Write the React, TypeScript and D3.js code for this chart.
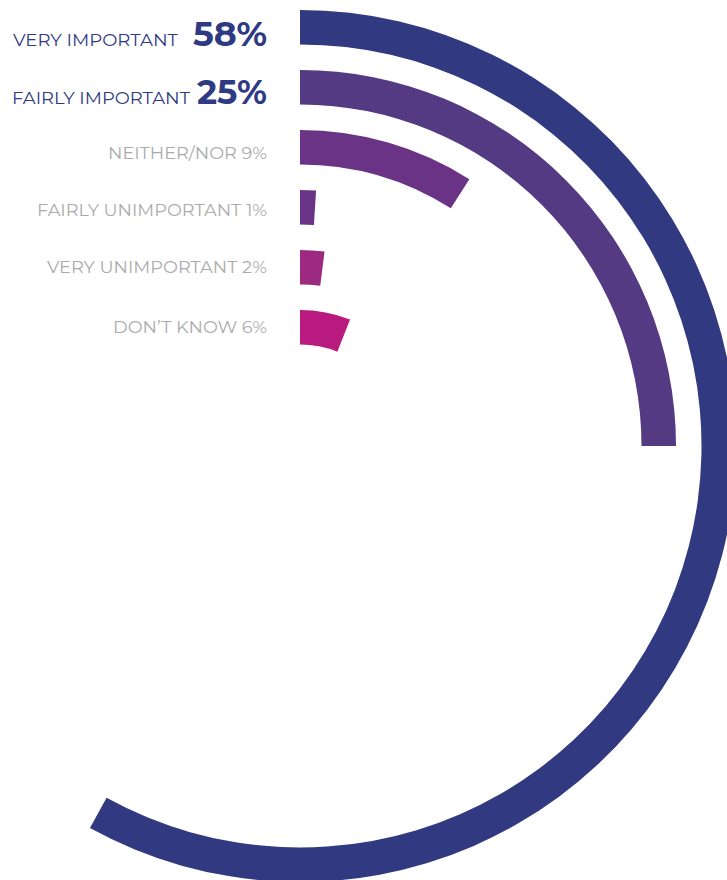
import { useEffect, useRef } from "react";
import * as d3 from "d3";

const categories = [
  "VERY IMPORTANT",
  "FAIRLY IMPORTANT",
  "NEITHER/NOR",
  "FAIRLY UNIMPORTANT",
  "VERY UNIMPORTANT",
  "DON\u2019T KNOW",
];
const values = [58, 25, 9, 1, 2, 6];
const highlighted = [true, true, false, false, false, false];
const colors = ["#313a81", "#543983", "#6a3386", "#693387", "#9c2a81", "#b91a80"];

const W = 727;
const H = 880;

export default function App() {
  const svgRef = useRef<SVGSVGElement | null>(null);

  useEffect(() => {
    const svg = d3.select(svgRef.current);
    svg.selectAll("*").remove();

    const cx = 300;
    const cy = 446;

    // radial band scale: position of each ring's outer edge measured from the top
    const y = d3.scaleBand<string>()
      .domain(categories)
      .range([10, 344.5])
      .paddingInner(0.425)
      .paddingOuter(0);

    const angle = d3.scaleLinear().domain([0, 100]).range([0, 2 * Math.PI]);

    const arc = d3.arc<string>()
      .outerRadius(c => cy - (y(c) as number))
      .innerRadius(c => cy - (y(c) as number) - y.bandwidth())
      .startAngle(0)
      .endAngle(c => angle(values[categories.indexOf(c)]));

    const g = svg.append("g").attr("transform", `translate(${cx},${cy})`);
    g.selectAll("path")
      .data(categories)
      .join("path")
      .attr("d", d => arc(d) as string)
      .attr("fill", (d, i) => colors[i]);

    // labels
    const labelX = 267;
    const baselines = [46, 104, 159, 216, 273, 333];
    const labelWidths = [165, 178, 159, 230, 220, 154];
    const numWidths = [74, 70];

    const font = "Montserrat, 'DejaVu Sans', sans-serif";
    const lg = svg.append("g");

    categories.forEach((c, i) => {
      if (highlighted[i]) {
        const numLeft = labelX - numWidths[i];
        lg.append("text")
          .attr("x", labelX)
          .attr("y", baselines[i])
          .attr("text-anchor", "end")
          .attr("fill", "#2f3a84")
          .attr("font-family", font)
          .attr("font-weight", 700)
          .attr("font-size", 34)
          .attr("textLength", numWidths[i])
          .attr("lengthAdjust", "spacingAndGlyphs")
          .text(`${values[i]}%`);
        const gap = i === 0 ? 15 : 7;
        lg.append("text")
          .attr("x", numLeft - gap)
          .attr("y", baselines[i])
          .attr("text-anchor", "end")
          .attr("fill", "#2f3a84")
          .attr("font-family", font)
          .attr("font-size", 17)
          .attr("textLength", labelWidths[i])
          .attr("lengthAdjust", "spacingAndGlyphs")
          .text(c);
      } else {
        lg.append("text")
          .attr("x", labelX)
          .attr("y", baselines[i])
          .attr("text-anchor", "end")
          .attr("fill", "#ababab")
          .attr("font-family", font)
          .attr("font-size", 17)
          .attr("textLength", labelWidths[i])
          .attr("lengthAdjust", "spacingAndGlyphs")
          .text(`${c} ${values[i]}%`);
      }
    });
  }, []);

  return (
    <svg
      ref={svgRef}
      width={W}
      height={H}
      style={{ position: "absolute", left: 0, top: 0, background: "#fff" }}
    />
  );
}
